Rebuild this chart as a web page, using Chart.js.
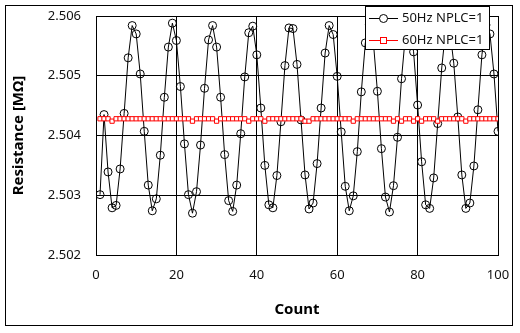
<!DOCTYPE html>
<html>
<head>
<meta charset="utf-8">
<script src="https://cdn.jsdelivr.net/npm/chart.js@4/dist/chart.umd.min.js"></script>
<style>
  html, body { margin: 0; padding: 0; background: #fff; }
  #wrap { width: 520px; height: 333px; }
</style>
</head>
<body>
<div id="wrap"><canvas id="resChart" width="520" height="333"></canvas></div>
<script>
// mesures : index 1..100
const counts = Array.from({ length: 100 }, (_, i) => i + 1);

const res50Hz = [
  2.50301, 2.50435, 2.50339, 2.50279, 2.50283, 2.50344, 2.50437, 2.50530, 2.50584, 2.50570,
  2.50503, 2.50407, 2.50317, 2.50274, 2.50294, 2.50367, 2.50464, 2.50548, 2.50588, 2.50559,
  2.50482, 2.50386, 2.50301, 2.50270, 2.50306, 2.50384, 2.50479, 2.50560, 2.50584, 2.50548,
  2.50464, 2.50368, 2.50291, 2.50273, 2.50317, 2.50403, 2.50498, 2.50572, 2.50583, 2.50535,
  2.50446, 2.50350, 2.50284, 2.50279, 2.50333, 2.50423, 2.50517, 2.50580, 2.50579, 2.50519,
  2.50426, 2.50334, 2.50277, 2.50287, 2.50353, 2.50446, 2.50538, 2.50584, 2.50569, 2.50499,
  2.50406, 2.50315, 2.50274, 2.50299, 2.50373, 2.50473, 2.50555, 2.50586, 2.50556, 2.50474,
  2.50378, 2.50297, 2.50272, 2.50316, 2.50397, 2.50495, 2.50570, 2.50586, 2.50540, 2.50451,
  2.50356, 2.50284, 2.50278, 2.50329, 2.50420, 2.50513, 2.50578, 2.50577, 2.50521, 2.50431,
  2.50334, 2.50278, 2.50287, 2.50349, 2.50443, 2.50535, 2.50585, 2.50570, 2.50503, 2.50407
];

const res60Hz = [
  2.50428, 2.50428, 2.50428, 2.50424, 2.50428, 2.50428, 2.50428, 2.50428, 2.50428, 2.50428,
  2.50428, 2.50428, 2.50428, 2.50428, 2.50428, 2.50428, 2.50428, 2.50428, 2.50428, 2.50428,
  2.50428, 2.50428, 2.50428, 2.50424, 2.50428, 2.50428, 2.50428, 2.50428, 2.50428, 2.50424,
  2.50428, 2.50428, 2.50428, 2.50428, 2.50428, 2.50428, 2.50428, 2.50424, 2.50428, 2.50428,
  2.50428, 2.50424, 2.50428, 2.50428, 2.50428, 2.50428, 2.50428, 2.50428, 2.50428, 2.50428,
  2.50428, 2.50424, 2.50424, 2.50428, 2.50428, 2.50428, 2.50428, 2.50428, 2.50428, 2.50428,
  2.50428, 2.50428, 2.50428, 2.50424, 2.50428, 2.50428, 2.50428, 2.50428, 2.50428, 2.50428,
  2.50428, 2.50428, 2.50428, 2.50424, 2.50428, 2.50424, 2.50428, 2.50428, 2.50424, 2.50428,
  2.50424, 2.50428, 2.50428, 2.50428, 2.50424, 2.50428, 2.50428, 2.50428, 2.50428, 2.50428,
  2.50428, 2.50424, 2.50428, 2.50428, 2.50428, 2.50428, 2.50428, 2.50428, 2.50428, 2.50428
];

const seriesLabels = ['50Hz NPLC=1', '60Hz NPLC=1'];
const xTicks = [0, 20, 40, 60, 80, 100];
const yTicks = [2.502, 2.503, 2.504, 2.505, 2.506];

const FONT = "'Noto Sans', 'Open Sans', sans-serif";
const TXT = '#111';

// cadre extérieur + légende dans un encadré
const framePlugin = {
  id: 'frame',
  beforeDraw(chart) {
    const ctx = chart.ctx;
    ctx.save();
    ctx.fillStyle = '#fff';
    ctx.fillRect(0, 0, chart.width, chart.height);
    ctx.strokeStyle = '#000';
    ctx.lineWidth = 1;
    ctx.strokeRect(5.5, 5.5, 507, 320);
    ctx.restore();
  },
  afterDraw(chart) {
    const ctx = chart.ctx;
    const box = { x: 365.5, y: 6.5, w: 124, h: 43 };
    ctx.save();
    ctx.fillStyle = '#fff';
    ctx.fillRect(box.x, box.y, box.w, box.h);
    ctx.strokeStyle = '#000';
    ctx.lineWidth = 1;
    ctx.strokeRect(box.x, box.y, box.w, box.h);
    ctx.font = '13px ' + FONT;
    ctx.textBaseline = 'middle';
    ctx.textAlign = 'left';
    chart.data.datasets.forEach((ds, i) => {
      const y = Math.round(box.y + 11 + i * 22.5) + 0.5;
      ctx.strokeStyle = ds.borderColor;
      ctx.beginPath();
      ctx.moveTo(369, y);
      ctx.lineTo(398, y);
      ctx.stroke();
      ctx.fillStyle = '#fff';
      if (ds.pointStyle === 'rect') {
        ctx.fillRect(380.5, y - 3, 6, 6);
        ctx.strokeRect(380.5, y - 3, 6, 6);
      } else {
        ctx.beginPath();
        ctx.arc(383.5, y, 4, 0, Math.PI * 2);
        ctx.fill();
        ctx.stroke();
      }
      ctx.fillStyle = TXT;
      ctx.fillText(ds.label, 402, y);
    });
    ctx.restore();
  }
};

const ctx = document.getElementById('resChart').getContext('2d');
new Chart(ctx, {
  type: 'line',
  data: {
    labels: counts,
    datasets: [
      {
        label: seriesLabels[0],
        data: counts.map((c, i) => ({ x: c, y: res50Hz[i] })),
        borderColor: '#000',
        borderWidth: 1,
        pointStyle: 'circle',
        pointRadius: 4,
        pointBorderWidth: 1,
        pointBackgroundColor: 'rgba(255,255,255,0)',
        pointBorderColor: '#000',
        tension: 0,
        order: 1
      },
      {
        label: seriesLabels[1],
        data: counts.map((c, i) => ({ x: c, y: res60Hz[i] })),
        borderColor: '#ff0000',
        borderWidth: 1,
        pointStyle: 'rect',
        pointRadius: 3,
        pointBorderWidth: 1,
        pointBackgroundColor: '#fff',
        pointBorderColor: '#ff0000',
        tension: 0,
        order: 0
      }
    ]
  },
  options: {
    responsive: false,
    animation: false,
    layout: { padding: { left: 0, right: 22, top: 16, bottom: 0 } },
    scales: {
      x: {
        type: 'linear', min: 0, max: 100,
        afterBuildTicks: s => { s.ticks = xTicks.map(v => ({ value: v })); },
        afterFit: s => { s.height = 78; s.paddingLeft = 0; s.paddingRight = 0; },
        grid: { color: '#000', lineWidth: 1, drawTicks: false },
        border: { color: '#000', width: 1 },
        ticks: { padding: 12, color: TXT, font: { family: FONT, size: 13 }, maxRotation: 0 },
        title: { display: true, text: 'Count', color: '#000', padding: { top: 0, bottom: 14 },
                 font: { family: FONT, size: 15, weight: 'bold' } }
      },
      y: {
        type: 'linear', min: 2.502, max: 2.506,
        afterBuildTicks: s => { s.ticks = yTicks.map(v => ({ value: v })); },
        afterFit: s => { s.width = 96; s.paddingTop = 0; s.paddingBottom = 0; },
        grid: { color: '#000', lineWidth: 1, drawTicks: false },
        border: { color: '#000', width: 1 },
        ticks: { padding: 15, color: TXT, font: { family: FONT, size: 13 },
                 callback: v => Number(v).toFixed(3) },
        title: { display: true, text: 'Resistance [MΩ]', color: '#000', padding: { top: 10, bottom: 0 },
                 font: { family: FONT, size: 15, weight: 'bold' } }
      }
    },
    plugins: {
      legend: { display: false },
      tooltip: { enabled: false }
    }
  },
  plugins: [framePlugin]
});
</script>
</body>
</html>
